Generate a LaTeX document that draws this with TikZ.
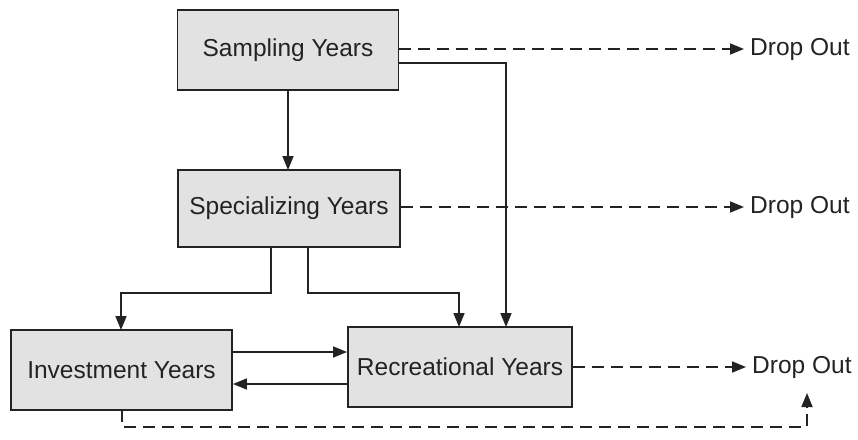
\documentclass[tikz,border=0pt]{standalone}
\usepackage{fontspec}
\setmainfont{Liberation Sans}
\usetikzlibrary{arrows.meta}
\definecolor{boxfill}{RGB}{226,226,226}
\definecolor{ink}{RGB}{35,35,35}
\tikzset{
  stagebox/.style={draw=ink, line width=1.9pt, fill=boxfill, text=ink,
    inner sep=0pt, font=\fontsize{24.5}{28}\selectfont},
  droptext/.style={anchor=west, inner sep=0pt, text=ink,
    font=\fontsize{24.5}{28}\selectfont},
  link/.style={draw=ink, line width=1.7pt, -{Triangle[length=14pt,width=11pt]}},
  droplink/.style={link, dash pattern=on 12pt off 7pt},
}
\begin{document}
\begin{tikzpicture}[x=1pt,y=-1pt]
\useasboundingbox (0,0) rectangle (858,439);
\node[stagebox, minimum width=221pt, minimum height=80pt] (samp) at (288,50) {Sampling Years};
\node[stagebox, minimum width=222pt, minimum height=77pt] (spec) at (289,208.5) {Specializing Years};
\node[stagebox, minimum width=221pt, minimum height=80pt] (inv) at (121.5,370) {Investment Years};
\node[stagebox, minimum width=224pt, minimum height=80pt] (rec) at (460,367) {Recreational Years};

\node[droptext] (d1) at (750,49) {Drop Out};
\node[droptext] (d2) at (750,207) {Drop Out};
\node[droptext] (d3) at (752,367) {Drop Out};

\coordinate (e1) at (744,49);
\coordinate (e2) at (744,207);
\coordinate (e3) at (746,367);
\coordinate (c3) at (807,393);

% drop-out dashed links
\draw[droplink] (samp.east |- e1) -- (e1);
\draw[droplink] (spec.east |- e2) -- (e2);
\draw[droplink] (rec.east |- e3) -- (e3);
\draw[droplink] (122,410) -- (122,427) -- (807,427) -- (c3);

% solid links
\draw[link] (samp.south -| 288,0) -- (288,170);
\draw[link] (samp.east |- 0,63) -- (506,63) -- (506,327);
\draw[link] (271,247) -- (271,293) -- (121,293) -- (121,330);
\draw[link] (308,247) -- (308,293) -- (459,293) -- (459,327);
\draw[link] (inv.east |- 0,352) -- (rec.west |- 0,352);
\draw[link] (rec.west |- 0,384) -- (inv.east |- 0,384);
\end{tikzpicture}
\end{document}
